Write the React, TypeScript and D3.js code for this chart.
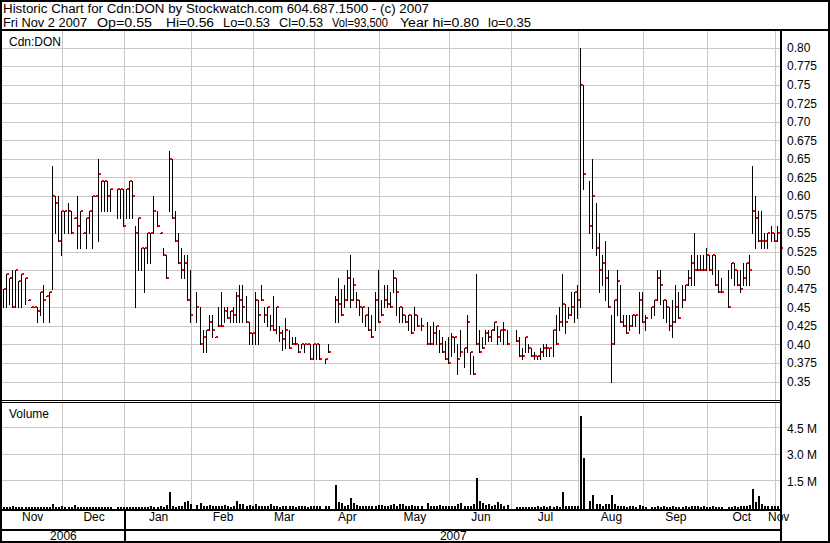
import React from 'react';
import * as d3 from 'd3';

// [high, low, close, volume in millions]; null = no trade
type Bar = [number, number, number, number] | null;

const nov06: Bar[] = [
  [0.475, 0.45, 0.475, 0.06], [0.495, 0.45, 0.495, 0.08], [0.49, 0.455, 0.49, 0.05], [0.5, 0.45, 0.45, 0.1],
  [0.5, 0.45, 0.5, 0.06], [0.485, 0.45, 0.485, 0.05], [0.495, 0.45, 0.495, 0.07], [0.49, 0.455, 0.49, 0.06],
  [0.46, 0.46, 0.46, 0.04], [0.45, 0.45, 0.45, 0.05], [0.45, 0.45, 0.45, 0.06], [0.45, 0.43, 0.445, 0.05],
  [0.47, 0.44, 0.47, 0.07], [0.48, 0.43, 0.46, 0.06], [0.465, 0.465, 0.465, 0.05], [0.47, 0.43, 0.47, 0.06],
  [0.64, 0.475, 0.6, 0.25], [0.6, 0.55, 0.59, 0.08], [0.6, 0.54, 0.54, 0.06], [0.58, 0.52, 0.58, 0.1],
];
const dec06: Bar[] = [
  [0.58, 0.55, 0.58, 0.05], [0.59, 0.55, 0.58, 0.06], [0.58, 0.55, 0.55, 0.08], [0.57, 0.57, 0.57, 0.15],
  [0.6, 0.53, 0.56, 0.06], [0.58, 0.53, 0.58, 0.05], [0.55, 0.55, 0.55, 0.07], [0.57, 0.53, 0.57, 0.05],
  [0.58, 0.55, 0.58, 0.06], [0.6, 0.53, 0.6, 0.05], [0.6, 0.6, 0.6, 0.06], [0.65, 0.54, 0.63, 0.05],
  [0.62, 0.58, 0.62, 0.04], [0.62, 0.58, 0.62, 0.05], [0.62, 0.58, 0.6, 0.06], [0.61, 0.58, 0.61, 0.05],
  null, [0.61, 0.57, 0.61, 0.05], [0.61, 0.57, 0.61, 0.04], [0.61, 0.56, 0.56, 0.06],
];
const jan07: Bar[] = [
  [0.61, 0.57, 0.61, 0.05], [0.62, 0.57, 0.62, 0.06], [0.62, 0.57, 0.6, 0.05], [0.56, 0.45, 0.55, 0.08],
  [0.57, 0.5, 0.57, 0.07], [0.53, 0.5, 0.53, 0.06], [0.53, 0.47, 0.53, 0.08], [0.55, 0.51, 0.55, 0.06],
  [0.55, 0.51, 0.55, 0.1], [0.6, 0.55, 0.58, 0.06], [0.58, 0.56, 0.56, 0.08], [0.55, 0.55, 0.55, 0.1],
  [0.53, 0.52, 0.52, 0.07], [0.52, 0.49, 0.49, 0.15], [0.66, 0.58, 0.65, 0.9], [0.65, 0.57, 0.57, 0.12],
  [0.58, 0.54, 0.54, 0.08], [0.55, 0.51, 0.51, 0.14], [0.53, 0.49, 0.5, 0.12], [0.52, 0.49, 0.51, 0.35],
  [0.52, 0.46, 0.46, 0.4], [0.5, 0.43, 0.44, 0.25],
];
const feb07: Bar[] = [
  null, [0.47, 0.43, 0.45, 0.16], [0.45, 0.4, 0.4, 0.3], [0.42, 0.39, 0.41, 0.14],
  [0.42, 0.39, 0.42, 0.12], [0.44, 0.42, 0.43, 0.18], [0.44, 0.41, 0.42, 0.14], [0.41, 0.41, 0.41, 0.1],
  [0.45, 0.425, 0.425, 0.1], [0.47, 0.425, 0.425, 0.14], [0.45, 0.43, 0.445, 0.16], [0.45, 0.435, 0.435, 0.09],
  [0.445, 0.43, 0.445, 0.08], [0.45, 0.43, 0.44, 0.12], [0.47, 0.43, 0.465, 0.38], [0.48, 0.43, 0.46, 0.2],
  [0.48, 0.43, 0.45, 0.24], [0.465, 0.43, 0.43, 0.12], [0.43, 0.4, 0.415, 0.16], [0.415, 0.4, 0.415, 0.1],
];
const mar07: Bar[] = [
  [0.47, 0.4, 0.46, 0.22], [0.46, 0.4, 0.44, 0.1], [0.48, 0.46, 0.46, 0.14], [0.45, 0.43, 0.44, 0.1],
  [0.45, 0.425, 0.45, 0.12], [0.44, 0.42, 0.425, 0.2], [0.465, 0.42, 0.42, 0.12], [0.45, 0.415, 0.45, 0.1],
  [0.425, 0.405, 0.415, 0.08], [0.42, 0.393, 0.407, 0.1], [0.435, 0.395, 0.42, 0.12], [0.42, 0.395, 0.395, 0.14],
  [0.41, 0.4, 0.4, 0.1], [0.41, 0.4, 0.4, 0.08], [0.4, 0.39, 0.39, 0.1], [0.4, 0.395, 0.4, 0.12],
  [0.4, 0.39, 0.4, 0.1], [0.4, 0.4, 0.4, 0.08], [0.4, 0.38, 0.38, 0.1], [0.4, 0.38, 0.4, 0.12],
];
const apr07: Bar[] = [
  [0.4, 0.38, 0.4, 0.1], [0.4, 0.38, 0.38, 0.12], null, [0.38, 0.375, 0.38, 0.1], [0.4, 0.39, 0.39, 0.1], null,
  [0.465, 0.43, 0.46, 1.3], [0.49, 0.43, 0.455, 0.32], [0.475, 0.44, 0.44, 0.3], [0.48, 0.45, 0.46, 0.12],
  [0.5, 0.46, 0.49, 0.18], [0.52, 0.45, 0.46, 0.55], [0.49, 0.46, 0.48, 0.3], [0.47, 0.45, 0.46, 0.15],
  [0.46, 0.44, 0.45, 0.12], [0.45, 0.43, 0.45, 0.12], [0.44, 0.425, 0.44, 0.1], [0.45, 0.42, 0.42, 0.12],
  [0.44, 0.41, 0.41, 0.1], [0.47, 0.42, 0.46, 0.14], [0.5, 0.43, 0.43, 0.18],
];
const may07: Bar[] = [
  [0.46, 0.44, 0.44, 0.16], [0.48, 0.45, 0.46, 0.12], [0.48, 0.45, 0.455, 0.14], [0.47, 0.45, 0.45, 0.15],
  [0.5, 0.47, 0.49, 0.25], [0.49, 0.44, 0.47, 0.1], [0.45, 0.43, 0.45, 0.2], [0.45, 0.43, 0.44, 0.2],
  [0.44, 0.43, 0.43, 0.12], [0.44, 0.42, 0.44, 0.14], [0.44, 0.415, 0.415, 0.18], [0.45, 0.42, 0.44, 0.12],
  [0.44, 0.425, 0.425, 0.12], [0.435, 0.42, 0.425, 0.1], null, [0.43, 0.4, 0.4, 0.3],
  [0.425, 0.4, 0.4, 0.12], [0.43, 0.4, 0.415, 0.1], [0.425, 0.4, 0.425, 0.12], [0.42, 0.39, 0.4, 0.15],
  [0.41, 0.39, 0.39, 0.14], [0.405, 0.38, 0.38, 0.12], [0.41, 0.375, 0.375, 0.1],
];
const jun07: Bar[] = [
  [0.415, 0.385, 0.41, 0.1], [0.41, 0.39, 0.41, 0.12], [0.4, 0.36, 0.38, 0.2], [0.42, 0.385, 0.39, 0.28],
  [0.395, 0.37, 0.395, 0.1], [0.44, 0.39, 0.43, 0.12], [0.39, 0.36, 0.39, 0.12], [0.385, 0.36, 0.36, 0.25],
  [0.495, 0.4, 0.4, 1.72], [0.42, 0.39, 0.39, 0.38], [0.41, 0.395, 0.395, 0.28], [0.42, 0.4, 0.415, 0.15],
  [0.42, 0.405, 0.41, 0.22], [0.42, 0.405, 0.42, 0.12], [0.43, 0.42, 0.43, 0.15], [0.425, 0.4, 0.41, 0.35],
  [0.42, 0.405, 0.42, 0.2], [0.43, 0.4, 0.42, 0.12], [0.42, 0.4, 0.4, 0.18], null,
];
const jul07: Bar[] = [
  null, [0.42, 0.405, 0.405, 0.06], [0.41, 0.385, 0.385, 0.06], [0.395, 0.38, 0.385, 0.05],
  [0.41, 0.39, 0.41, 0.06], [0.4, 0.39, 0.395, 0.08], [0.395, 0.385, 0.385, 0.06], [0.39, 0.38, 0.385, 0.07],
  [0.385, 0.38, 0.385, 0.1], [0.395, 0.38, 0.39, 0.06], [0.4, 0.385, 0.395, 0.14], [0.4, 0.385, 0.395, 0.08],
  [0.395, 0.385, 0.395, 0.12], [0.42, 0.385, 0.42, 0.08], [0.44, 0.4, 0.4, 0.1], [0.45, 0.42, 0.43, 0.06],
  [0.495, 0.425, 0.455, 0.92], [0.455, 0.415, 0.43, 0.1], [0.45, 0.435, 0.44, 0.12], [0.47, 0.44, 0.45, 0.14],
  [0.47, 0.43, 0.47, 0.1], [0.48, 0.435, 0.46, 0.12],
];
const aug07: Bar[] = [
  [0.8, 0.45, 0.75, 5.2], [0.75, 0.61, 0.63, 2.85], null, [0.62, 0.55, 0.56, 0.42],
  [0.65, 0.53, 0.6, 0.72], [0.59, 0.52, 0.53, 0.25], [0.55, 0.47, 0.5, 0.2], [0.52, 0.48, 0.51, 0.12],
  [0.54, 0.46, 0.49, 0.22], [0.5, 0.45, 0.45, 0.22], [0.44, 0.35, 0.4, 0.72], [0.46, 0.4, 0.46, 0.2],
  [0.5, 0.44, 0.485, 0.12], [0.48, 0.43, 0.43, 0.1], [0.44, 0.425, 0.425, 0.12], [0.44, 0.415, 0.415, 0.08],
  [0.44, 0.42, 0.425, 0.1], [0.44, 0.425, 0.44, 0.12], [0.44, 0.425, 0.44, 0.08], [0.47, 0.415, 0.46, 0.15],
  [0.47, 0.43, 0.43, 0.1],
];
const sep07: Bar[] = [
  [0.44, 0.42, 0.435, 0.06], null, [0.45, 0.435, 0.45, 0.08], [0.46, 0.44, 0.46, 0.06],
  [0.5, 0.46, 0.49, 0.1], [0.5, 0.455, 0.48, 0.08], [0.46, 0.435, 0.46, 0.12], [0.46, 0.43, 0.45, 0.06],
  [0.45, 0.42, 0.425, 0.08], [0.46, 0.41, 0.43, 0.1], [0.48, 0.43, 0.45, 0.08], [0.47, 0.435, 0.435, 0.06],
  [0.48, 0.45, 0.46, 0.08], [0.48, 0.46, 0.48, 0.1], [0.5, 0.48, 0.49, 0.08], [0.52, 0.48, 0.51, 0.12],
  [0.55, 0.48, 0.5, 0.14], [0.52, 0.5, 0.5, 0.1], [0.52, 0.5, 0.5, 0.08], [0.52, 0.5, 0.5, 0.1],
  [0.53, 0.5, 0.52, 0.08],
];
const oct07: Bar[] = [
  [0.52, 0.5, 0.5, 0.08], [0.52, 0.495, 0.52, 0.1], [0.52, 0.48, 0.48, 0.06], [0.5, 0.47, 0.47, 0.08],
  [0.49, 0.47, 0.47, 0.06], null, [0.5, 0.45, 0.45, 0.08], [0.51, 0.49, 0.51, 0.06],
  [0.51, 0.48, 0.5, 0.1], [0.5, 0.48, 0.48, 0.08], [0.5, 0.47, 0.475, 0.1], [0.51, 0.48, 0.49, 0.12],
  [0.51, 0.48, 0.51, 0.1], [0.52, 0.48, 0.5, 0.18], [0.64, 0.55, 0.58, 1.1], [0.6, 0.53, 0.57, 0.35],
  [0.58, 0.54, 0.54, 0.68], [0.58, 0.53, 0.54, 0.2], [0.55, 0.53, 0.54, 0.12], [0.55, 0.53, 0.55, 0.12],
  [0.56, 0.54, 0.55, 0.1], [0.55, 0.54, 0.54, 0.12],
];
const nov07: Bar[] = [[0.56, 0.54, 0.55, 0.1], [0.56, 0.53, 0.53, 0.0935]];

const monthData: Bar[][] = [nov06, dec06, jan07, feb07, mar07, apr07, may07, jun07, jul07, aug07, sep07, oct07, nov07];
const monthNames = ['Nov', 'Dec', 'Jan', 'Feb', 'Mar', 'Apr', 'May', 'Jun', 'Jul', 'Aug', 'Sep', 'Oct', 'Nov'];
const yearNames = ['2006', '2007'];
const yearFirstMonth = [0, 2];
const priceTicks = [0.35, 0.375, 0.4, 0.425, 0.45, 0.475, 0.5, 0.525, 0.55, 0.575, 0.6, 0.625, 0.65, 0.675, 0.7, 0.725, 0.75, 0.775, 0.8];
const volumeTicks = [1.5, 3.0, 4.5];
const titleLine = 'Historic Chart for Cdn:DON by Stockwatch.com 604.687.1500 - (c) 2007';
const quoteItems = ['Fri Nov 2 2007', 'Op=0.55', 'Hi=0.56', 'Lo=0.53', 'Cl=0.53', 'Vol=93,500', 'Year hi=0.80', 'lo=0.35'];
const symbolLabel = 'Cdn:DON';
const volumeLabel = 'Volume';

export default function App() {
  const W = 830, H = 543;
  const plotL = 2, plotR = 781;
  const monthStarts: number[] = [];
  let acc = 0;
  monthData.forEach((m) => { monthStarts.push(acc); acc += m.length; });
  const total = acc;
  const bars = monthData.flat();

  const x = d3.scaleLinear().domain([0, total]).range([plotL, plotL + total * 3.07]);
  const y = d3.scaleLinear().domain([0.35, 0.8]).range([381.5, 47.6]);
  const yv = d3.scaleLinear().domain([0, 4.5]).range([508, 428.3]);

  // header layout: start x and rendered width of each quote item
  const quoteX = [3, 97, 166, 223, 279, 332, 400, 488];
  const quoteW = [84, 55, 48, 47, 44, 56, 79, 43];
  const font = '"Liberation Sans", Arial, sans-serif';
  const grid = '#c8c8c8';
  const fmtP = (v: number) => v.toFixed(3).replace(/0$/, '');

  const gx = (s: number) => Math.round(x(s)) - 0.5;

  return (
    <svg width={W} height={H} style={{ position: 'absolute', left: 0, top: 0, background: '#fff' }}>
      <rect x={0} y={0} width={W} height={H} fill="#fff" />
      {/* header */}
      <text x={3} y={13} fontFamily={font} fontSize={12.5} fill="#000" textLength={426} lengthAdjust="spacingAndGlyphs">{titleLine}</text>
      {quoteItems.map((t, i) => (
        <text key={i} x={quoteX[i]} y={27} fontFamily={font} fontSize={12.5} fill="#000" textLength={quoteW[i]} lengthAdjust="spacingAndGlyphs">{t}</text>
      ))}

      {/* price gridlines */}
      {priceTicks.map((p) => (
        <line key={'pg' + p} x1={plotL} x2={plotR} y1={Math.round(y(p)) + 0.5} y2={Math.round(y(p)) + 0.5} stroke={grid} />
      ))}
      {monthStarts.slice(1).map((s) => (
        <line key={'vg' + s} x1={gx(s)} x2={gx(s)} y1={31} y2={400} stroke={grid} />
      ))}
      {/* volume gridlines */}
      {volumeTicks.map((v) => (
        <line key={'vgl' + v} x1={plotL} x2={plotR} y1={Math.round(yv(v)) - 0.5} y2={Math.round(yv(v)) - 0.5} stroke={grid} />
      ))}
      {monthStarts.slice(1).map((s) => (
        <line key={'vvg' + s} x1={gx(s)} x2={gx(s)} y1={403} y2={509} stroke={grid} />
      ))}

      {/* price bars */}
      {bars.map((b, i) => {
        if (!b) return null;
        const xc = Math.floor(x(i + 0.5));
        const yh = Math.round(y(b[0]));
        const yl = Math.round(y(b[1]));
        const yc = Math.round(y(b[2]));
        return (
          <g key={'b' + i}>
            <rect x={xc} y={yh} width={1} height={Math.max(1, yl - yh + 1)} fill="#000" />
            <rect x={xc + 1} y={yc - 1} width={2} height={2} fill="#ff0000" />
          </g>
        );
      })}

      {/* volume bars */}
      {bars.map((b, i) => {
        if (!b || b[3] <= 0) return null;
        const xc = Math.floor(x(i + 0.5));
        const yt = Math.min(508, Math.round(yv(b[3])));
        return <rect key={'v' + i} x={xc} y={yt} width={2} height={509 - yt} fill="#000" />;
      })}

      {/* labels inside panels */}
      <text x={9} y={46} fontFamily={font} fontSize={12} fill="#000">{symbolLabel}</text>
      <text x={9} y={418} fontFamily={font} fontSize={12} fill="#000">{volumeLabel}</text>

      {/* right axis labels */}
      {priceTicks.map((p) => (
        <text key={'pl' + p} x={787} y={y(p)} dy="0.36em" fontFamily={font} fontSize={12} fill="#000">{fmtP(p)}</text>
      ))}
      {volumeTicks.map((v) => (
        <text key={'vl' + v} x={787} y={yv(v)} dy="0.36em" fontFamily={font} fontSize={12} fill="#000">{v.toFixed(1) + ' M'}</text>
      ))}

      {/* month labels */}
      {monthNames.map((m, i) => {
        const s = monthStarts[i];
        const e = i + 1 < monthStarts.length ? monthStarts[i + 1] : total;
        return (
          <text key={'ml' + i} x={x((s + e) / 2)} y={521} textAnchor="middle" fontFamily={font} fontSize={12} fill="#000">{m}</text>
        );
      })}
      {/* year labels */}
      {yearNames.map((yn, i) => {
        const s = monthStarts[yearFirstMonth[i]];
        const e = i + 1 < yearFirstMonth.length ? monthStarts[yearFirstMonth[i + 1]] : total;
        return (
          <text key={'yl' + i} x={x((s + e) / 2)} y={539.5} textAnchor="middle" fontFamily={font} fontSize={12} fill="#000">{yn}</text>
        );
      })}

      {/* frame lines */}
      <rect x={0} y={0} width={W} height={2} fill="#000" />
      <rect x={0} y={0} width={2} height={H} fill="#000" />
      <rect x={W - 2} y={0} width={2} height={H} fill="#000" />
      <rect x={0} y={H - 2} width={W} height={2} fill="#000" />
      <rect x={0} y={29} width={W} height={2} fill="#000" />
      <rect x={0} y={400} width={plotR + 1} height={1} fill="#000" />
      <rect x={0} y={402} width={plotR + 1} height={1} fill="#000" />
      <rect x={0} y={509} width={plotR + 1} height={2} fill="#000" />
      <rect x={0} y={529} width={plotR + 1} height={2} fill="#000" />
      <rect x={plotR - 1} y={29} width={2} height={H - 29} fill="#000" />
      {yearFirstMonth.slice(1).map((mi) => (
        <rect key={'ys' + mi} x={Math.round(x(monthStarts[mi])) - 1} y={511} width={2} height={30} fill="#000" />
      ))}
    </svg>
  );
}
